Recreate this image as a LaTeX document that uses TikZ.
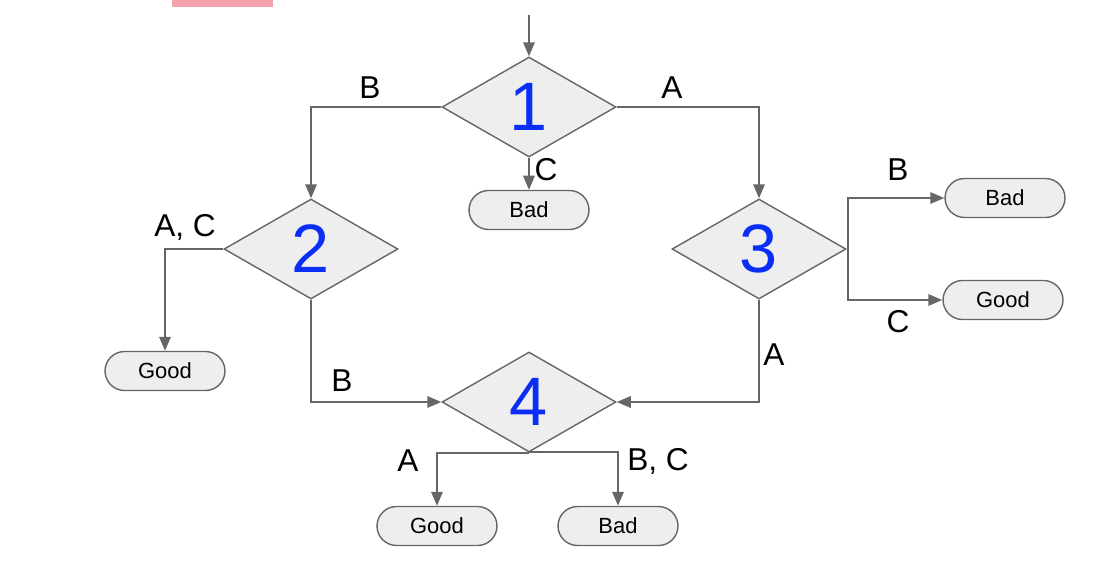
\documentclass[tikz,border=0pt]{standalone}
\usepackage{fontspec}
\setmainfont{Liberation Sans}
\usetikzlibrary{shapes.geometric,shapes.misc,arrows.meta}
\definecolor{ln}{HTML}{666666}
\definecolor{fl}{HTML}{EEEEEE}
\definecolor{num}{HTML}{0A2EF5}
\definecolor{pk}{HTML}{F4A3AD}
\begin{document}
\begin{tikzpicture}[x=0.02cm,y=-0.02cm,
  dia/.style={diamond,draw=ln,fill=fl,line width=0.8pt,minimum width=3.48cm,minimum height=2cm,inner sep=0pt,aspect=1.74,text=num,font=\fontsize{39}{39}\selectfont},
  term/.style={rounded rectangle,draw=ln,fill=fl,line width=0.8pt,minimum width=2.4cm,minimum height=0.78cm,inner sep=0pt,font=\fontsize{12.5}{14}\selectfont},
  arr/.style={draw=ln,line width=1.1pt,-{Triangle[length=8pt,width=6.5pt]}},
  lbl/.style={font=\fontsize{18}{20}\selectfont}]
\useasboundingbox (0,0) rectangle (1114,568);
\fill[pk] (172,0) rectangle (273,7);
\node[dia] (d1) at (529,107) {1};
\node[dia] (d2) at (311,249) {2};
\node[dia] (d3) at (759,249) {3};
\node[dia] (d4) at (529,402) {4};
\node[term] (b1) at (529,210) {Bad};
\node[term] (b3) at (1005,198) {Bad};
\node[term] (g3) at (1003,300) {Good};
\node[term] (g2) at (165,371) {Good};
\node[term] (g4) at (437,526) {Good};
\node[term] (b4) at (618,526) {Bad};
\coordinate (top) at (529,15);
\draw[arr] (top) -- (d1.north);
\draw[arr] (d1.west) -| (d2.north);
\draw[arr] (d1.east) -| (d3.north);
\draw[arr] (d1.south) -- (b1.north);
\draw[arr] (d2.west) -| (g2.north);
\draw[arr] (d2.south) |- (d4.west);
\draw[arr] (d3.south) |- (d4.east);
\coordinate (j3) at (848,249);
\draw[arr] (d3.east) -- (j3) |- (b3.west);
\draw[arr] (j3) |- (g3.west);
\coordinate (j4) at (529,452);
\draw[arr] (d4.south) -| (g4.north);
\draw[arr] (j4) -| (b4.north);
\node[lbl] (lB1) at (370,88) {B};
\node[lbl] (lA1) at (672,88) {A};
\node[lbl] (lC1) at (546,170) {C};
\node[lbl] (lAC) at (185,227) {A, C};
\node[lbl] (lB2) at (342,381) {B};
\node[lbl] (lA3) at (774,355) {A};
\node[lbl] (lB3) at (898,170) {B};
\node[lbl] (lC3) at (898,322) {C};
\node[lbl] (lA4) at (408,461) {A};
\node[lbl] (lBC) at (658,461) {B, C};
\end{tikzpicture}
\end{document}
